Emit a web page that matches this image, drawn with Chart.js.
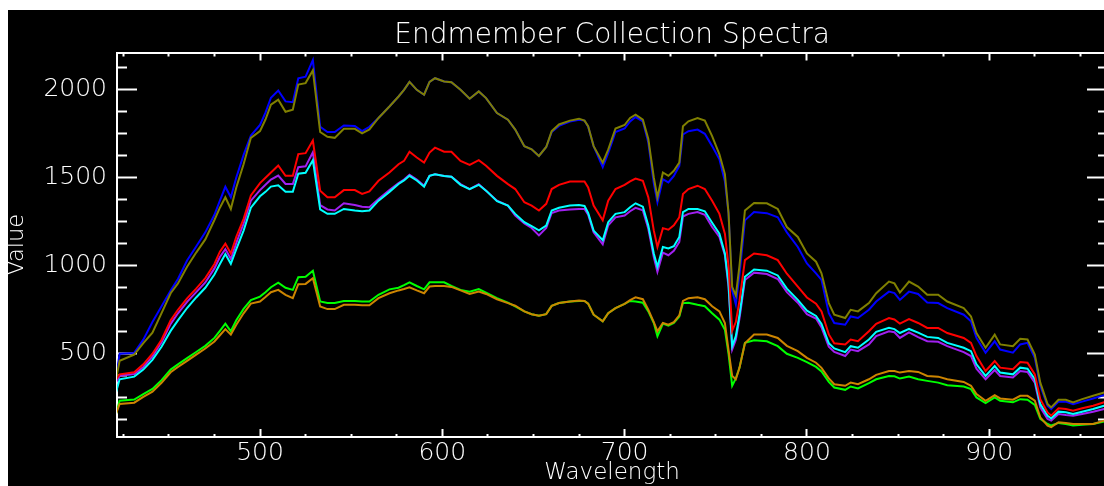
<!DOCTYPE html>
<html><head><meta charset="utf-8">
<script src="https://cdn.jsdelivr.net/npm/chart.js@4.4.1/dist/chart.umd.min.js"></script>
<style>
html,body{margin:0;padding:0;background:#fff;overflow:hidden;width:1104px;height:486px;}
#wrap{position:absolute;left:8px;top:10px;width:1104px;height:476px;background:#000;overflow:hidden;}
canvas{display:block;}
</style></head><body>
<div id="wrap"><canvas id="c" width="1104" height="476"></canvas></div>
<script>
const wavelengths = [421,423,431,436,441,446,451,455,460,465,
470,475,478,481,484,487,491,495,500,503,
506,510,514,518,521,525,529,533,537,541,
546,552,556,560,565,571,576,579,582,586,
590,593,596,601,605,610,615,620,624,630,
636,640,645,649,653,657,660,664,670,675,
678,680,683,688,691,695,700,703,706,710,
713,716,718,721,724,727,730,732,735,740,
744,748,752,755,757,759,761,763,766,771,
778,784,789,795,800,805,808,812,815,821,
824,828,834,838,845,848,851,856,861,866,
872,877,886,890,893,898,903,906,913,917,
921,925,928,932,934,938,942,946,951,957,
963,966];

const seriesBlue = [365,500,505,580,680,770,860,925,1030,1110,
1190,1290,1370,1449,1389,1502,1630,1740,1800,1870,
1955,1996,1934,1930,2065,2075,2169,1790,1760,1760,
1797,1795,1765,1790,1840,1905,1962,2000,2045,2000,
1972,2045,2066,2047,2043,2000,1949,1991,1953,1868,
1830,1774,1680,1662,1624,1675,1760,1795,1820,1830,
1825,1790,1680,1560,1640,1760,1780,1820,1845,1820,
1700,1470,1361,1492,1474,1511,1568,1746,1765,1774,
1750,1680,1605,1480,1300,860,780,950,1258,1305,
1299,1276,1190,1107,1013,957,920,731,675,665,
712,703,750,797,853,845,806,853,840,791,
788,759,722,684,590,506,571,524,506,553,
562,477,318,205,186,228,228,214,228,246,
265,272];

const seriesOlive = [355,460,495,560,620,731,844,900,994,1075,
1150,1260,1330,1389,1323,1445,1577,1727,1765,1831,
1915,1944,1875,1887,2030,2038,2110,1760,1733,1727,
1778,1778,1752,1775,1840,1905,1962,2000,2045,2000,
1972,2045,2066,2047,2043,2000,1949,1991,1953,1868,
1830,1774,1680,1662,1624,1675,1765,1803,1825,1836,
1825,1793,1680,1586,1660,1780,1800,1840,1859,1830,
1720,1502,1389,1530,1511,1540,1586,1793,1821,1840,
1825,1737,1633,1521,1300,880,830,1000,1314,1357,
1355,1323,1220,1164,1070,1023,957,788,722,703,
750,741,788,844,910,900,848,910,882,835,
835,797,759,712,618,534,609,553,543,585,
581,496,336,214,195,239,239,224,242,261,
280,288];

const seriesRed = [355,383,395,440,500,580,690,750,815,870,
930,1010,1080,1126,1070,1164,1267,1400,1470,1500,
1530,1570,1511,1511,1635,1640,1712,1427,1389,1389,
1430,1430,1408,1423,1483,1530,1577,1596,1648,1615,
1586,1643,1671,1648,1648,1596,1573,1600,1568,1511,
1464,1436,1361,1342,1314,1352,1436,1460,1479,1479,
1479,1445,1342,1258,1370,1436,1460,1480,1496,1483,
1389,1201,1107,1214,1205,1230,1276,1408,1436,1455,
1436,1370,1295,1182,1000,630,680,800,1032,1070,
1060,1032,955,882,820,785,740,610,560,553,
581,571,628,670,703,695,671,697,675,647,
647,618,590,562,487,402,459,421,412,453,
449,383,242,167,148,190,186,177,190,205,
224,232];

const seriesPurple = [336,375,385,425,485,565,670,730,795,850,
905,985,1050,1095,1039,1130,1240,1370,1430,1460,
1490,1513,1465,1465,1560,1565,1645,1345,1320,1314,
1355,1345,1335,1333,1380,1430,1470,1490,1517,1490,
1455,1511,1520,1510,1506,1464,1436,1464,1427,1370,
1342,1286,1240,1215,1173,1215,1300,1314,1320,1323,
1323,1290,1190,1122,1230,1275,1286,1310,1329,1315,
1210,1050,966,1075,1060,1085,1135,1280,1295,1305,
1290,1220,1164,1060,880,524,580,700,919,961,
953,925,850,790,725,700,650,540,510,487,
524,515,553,600,628,622,590,622,595,571,
568,543,509,487,415,355,408,374,365,402,
397,336,195,130,120,158,152,148,158,171,
186,192];

const seriesCyan = [280,355,370,410,465,540,630,690,760,820,
875,950,1010,1067,1011,1095,1200,1330,1395,1420,
1450,1457,1420,1420,1523,1528,1600,1320,1295,1295,
1323,1314,1310,1314,1370,1420,1465,1485,1511,1485,
1449,1511,1520,1510,1506,1460,1436,1460,1427,1367,
1342,1295,1248,1225,1201,1229,1314,1330,1342,1345,
1340,1300,1200,1145,1248,1295,1305,1333,1355,1336,
1229,1070,994,1107,1098,1111,1164,1305,1323,1323,
1310,1245,1182,1070,900,543,600,720,938,979,
972,945,870,806,745,715,670,560,530,509,
543,534,581,625,647,640,618,641,620,596,
590,562,534,515,440,374,430,393,383,421,
415,355,214,148,133,171,167,158,171,186,
205,212];

const seriesGreen = [158,233,240,270,300,350,410,440,475,510,
545,590,630,671,628,690,755,805,825,850,
878,904,875,863,935,938,972,797,788,788,
800,800,797,797,835,866,875,890,906,885,
866,906,906,906,885,863,853,868,848,816,
791,769,741,725,716,725,772,788,797,800,
800,785,722,684,731,759,784,800,797,790,
741,675,600,672,660,675,712,788,790,778,
770,730,694,637,500,318,360,420,562,577,
571,543,500,477,452,425,400,340,308,295,
314,303,333,355,374,372,359,370,355,346,
336,321,314,299,252,220,252,233,224,242,
239,209,130,101,92,107,101,92,96,101,
115,118];

const seriesOrange = [158,215,222,255,285,335,395,425,460,495,
530,570,605,640,609,665,730,785,797,822,
850,863,835,816,895,897,929,769,754,754,
778,778,776,776,816,844,860,868,878,860,
844,882,885,885,880,860,840,853,840,810,
788,773,741,725,716,725,772,788,797,803,
800,785,722,684,731,759,784,805,821,810,
750,680,628,675,665,680,718,800,816,821,
810,770,741,675,520,374,355,420,560,609,
609,590,545,515,477,449,420,360,327,318,
336,327,355,380,402,402,393,402,397,374,
370,355,340,318,271,233,265,246,239,261,
261,233,139,92,83,111,107,101,101,101,
120,122];

const xTicks = [425,450,475,500,525,550,575,600,625,650,675,700,725,750,775,800,825,850,875,900,925,950];
const xMajor = [500,600,700,800,900];
const yTicks = [125,250,375,500,625,750,875,1000,1125,1250,1375,1500,1625,1750,1875,2000,2125];
const yMajor = [500,1000,1500,2000];

const titleText = 'Endmember Collection Spectra';
const xTitle = 'Wavelength';
const yTitle = 'Value';

const FG = '#ffffff';
const FAM = "'DejaVu Sans', sans-serif";
const W = '200';

const seriesList = [
  {label: 'olive', values: seriesOlive, color: '#808000'},
  {label: 'blue', values: seriesBlue, color: '#0000ff'},
  {label: 'red', values: seriesRed, color: '#ff0000'},
  {label: 'cyan', values: seriesCyan, color: '#00ffff'},
  {label: 'purple', values: seriesPurple, color: '#a020f0'},
  {label: 'orange', values: seriesOrange, color: '#cd8500'},
  {label: 'green', values: seriesGreen, color: '#00ff00'}
];

const X_MIN = 421.56, X_MAX = 964.6, Y_MIN = 27, Y_MAX = 2212;

function axisGrid(tickLen, majors, minorDash) {
  return {
    display: true,
    drawOnChartArea: false,
    drawTicks: true,
    tickLength: tickLen,
    tickWidth: 2,
    tickColor: FG,
    tickBorderDash: ctx => (ctx.tick && majors.includes(ctx.tick.value)) ? [] : minorDash
  };
}
const border = {display: true, color: FG, width: 2};

new Chart(document.getElementById('c'), {
  type: 'line',
  data: {
    datasets: seriesList.map(s => ({
      label: s.label,
      data: wavelengths.map((w, i) => ({x: w, y: s.values[i]})),
      borderColor: s.color,
      backgroundColor: s.color,
      borderWidth: 2,
      pointRadius: 0,
      tension: 0,
      fill: false
    }))
  },
  options: {
    responsive: false,
    animation: false,
    devicePixelRatio: 1,
    events: [],
    layout: {padding: {left: 0, top: 0, right: 5, bottom: 0}},
    plugins: {
      legend: {display: false},
      tooltip: {enabled: false},
      title: {
        display: true, text: titleText, color: FG, fullSize: false,
        font: {family: FAM, size: 28, weight: W, lineHeight: 1},
        padding: {top: 8.3, bottom: 2.7}
      }
    },
    scales: {
      x: {
        type: 'linear', axis: 'x', position: 'bottom', min: X_MIN, max: X_MAX,
        afterBuildTicks: s => { s.ticks = xTicks.map(v => ({value: v})); },
        afterFit: s => { s.height = 49; },
        ticks: {autoSkip: false, maxRotation: 0, minRotation: 0, padding: 12, color: FG,
          font: {family: FAM, size: 25, weight: W, lineHeight: 1},
          callback: v => xMajor.includes(v) ? String(v) : ''},
        grid: axisGrid(-8, xMajor, [4, 1000]),
        border: border,
        title: {display: true, text: xTitle, color: FG, font: {family: FAM, size: 23, weight: W, lineHeight: 1}, padding: {top: 0, bottom: 1.6}}
      },
      x2: {
        type: 'linear', axis: 'x', position: 'top', min: X_MIN, max: X_MAX,
        afterBuildTicks: s => { s.ticks = xTicks.map(v => ({value: v})); },
        afterFit: s => { s.height = 0; },
        ticks: {display: false, autoSkip: false},
        grid: axisGrid(-8, xMajor, [0, 4, 4, 1000]),
        border: border
      },
      y: {
        type: 'linear', axis: 'y', position: 'left', min: Y_MIN, max: Y_MAX,
        afterBuildTicks: s => { s.ticks = yTicks.map(v => ({value: v})); },
        afterFit: s => { s.width = 109; },
        ticks: {autoSkip: false, padding: 30, color: FG,
          font: {family: FAM, size: 25, weight: W, lineHeight: 1},
          callback: v => yMajor.includes(v) ? String(v) : ''},
        grid: axisGrid(-20, yMajor, [0, 10, 10, 1000]),
        border: border,
        title: {display: true, text: yTitle, color: FG, font: {family: FAM, size: 22.5, weight: W, lineHeight: 1}, padding: {top: -2.35, bottom: 0}}
      },
      y2: {
        type: 'linear', axis: 'y', position: 'right', min: Y_MIN, max: Y_MAX,
        afterBuildTicks: s => { s.ticks = yTicks.map(v => ({value: v})); },
        afterFit: s => { s.width = 0; },
        ticks: {display: false, autoSkip: false},
        grid: axisGrid(-20, yMajor, [10, 1000]),
        border: border
      }
    }
  }
});
</script>
</body></html>
